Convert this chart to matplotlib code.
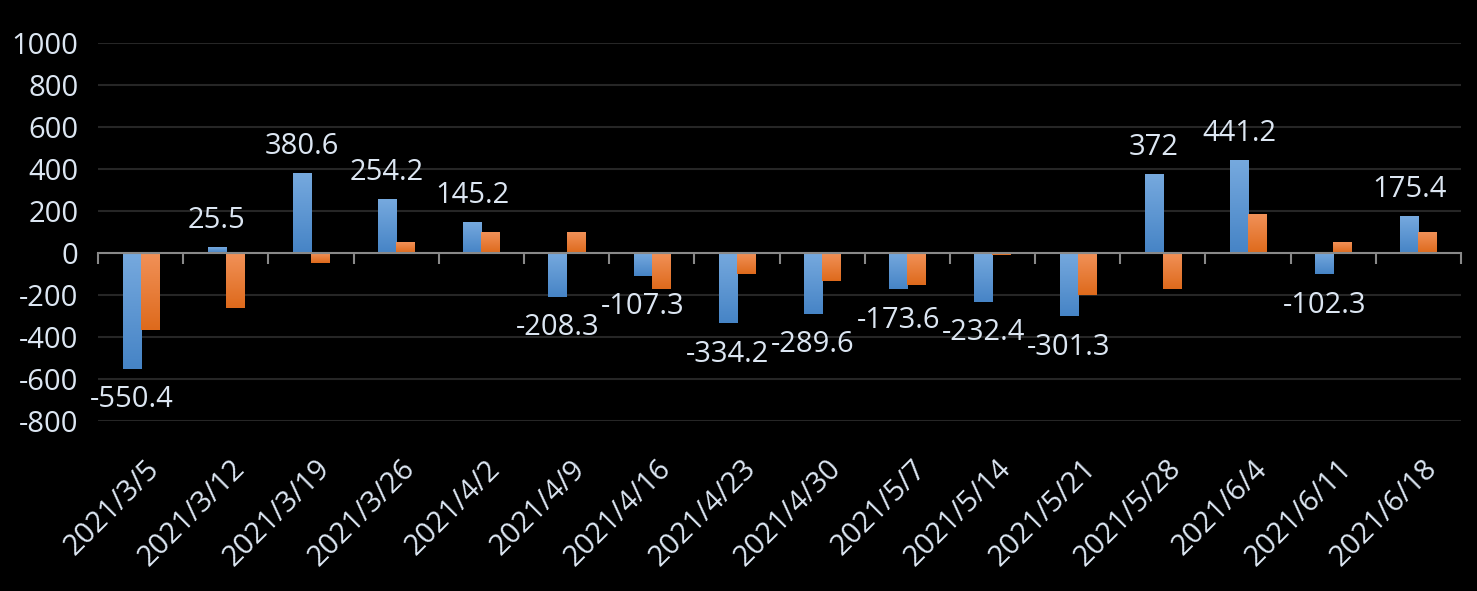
import matplotlib
matplotlib.use('Agg')
import matplotlib.pyplot as plt
import numpy as np
from matplotlib.colors import LinearSegmentedColormap

dates = ['2021/3/5', '2021/3/12', '2021/3/19', '2021/3/26', '2021/4/2', '2021/4/9',
         '2021/4/16', '2021/4/23', '2021/4/30', '2021/5/7', '2021/5/14', '2021/5/21',
         '2021/5/28', '2021/6/4', '2021/6/11', '2021/6/18']
blue_vals = [-550.4, 25.5, 380.6, 254.2, 145.2, -208.3, -107.3, -334.2, -289.6,
             -173.6, -232.4, -301.3, 372, 441.2, -102.3, 175.4]
orange_vals = [-366, -260, -46, 48, 100, 100, -170, -98, -133, -152, -10, -198,
               -170, 181, 48, 100]
y_ticks = [-800, -600, -400, -200, 0, 200, 400, 600, 800, 1000]

plt.rcParams['font.family'] = ['Open Sans', 'DejaVu Sans']
txt_color = '#dce6f2'

fig = plt.figure(figsize=(14.77, 5.91), dpi=100, facecolor='black')
ax = fig.add_axes([98 / 1477, 1 - 421 / 591, (1461 - 98) / 1477, (421 - 43) / 591])
ax.set_facecolor('black')

x = np.arange(len(dates))
w = 0.212
blue_bars = ax.bar(x - w / 2, blue_vals, w, color='none', zorder=3)
orange_bars = ax.bar(x + w / 2, orange_vals, w, color='none', zorder=3)

blue_cm = LinearSegmentedColormap.from_list('b', ['#4684c6', '#76a9de'])
orange_cm = LinearSegmentedColormap.from_list('o', ['#de6a1c', '#f19158'])
grad = np.linspace(0, 1, 100).reshape(-1, 1)


def fill_gradient(bars, cmap):
    # vertical gradient per bar: light at top, darker at bottom
    for b in bars:
        x0, y0 = b.get_x(), b.get_y()
        x1, y1 = x0 + b.get_width(), y0 + b.get_height()
        lo, hi = min(y0, y1), max(y0, y1)
        ax.imshow(grad, extent=[x0, x1, lo, hi], origin='lower', aspect='auto',
                  cmap=cmap, zorder=3, interpolation='bilinear')


fill_gradient(blue_bars, blue_cm)
fill_gradient(orange_bars, orange_cm)

for xi, v in zip(x, blue_vals):
    lbl = f'{v:g}'
    if v >= 0:
        ax.annotate(lbl, (xi - w / 2, v), xytext=(0, 9), textcoords='offset points',
                    ha='center', va='bottom', color=txt_color, fontsize=21, zorder=5)
    else:
        ax.annotate(lbl, (xi - w / 2, v), xytext=(0, -12), textcoords='offset points',
                    ha='center', va='top', color=txt_color, fontsize=21, zorder=5)

ax.set_xlim(-0.5, len(dates) - 0.5)
ax.set_ylim(-800, 1000)
ax.set_yticks(y_ticks)
ax.set_yticklabels([str(t) for t in y_ticks])
ax.tick_params(axis='y', length=0, pad=14, labelsize=21, labelcolor=txt_color)
ax.grid(axis='y', color='#262626', linewidth=1.5, zorder=0)
ax.set_axisbelow(True)

for s in ['top', 'right', 'left']:
    ax.spines[s].set_visible(False)
ax.spines['bottom'].set_position(('data', 0))
ax.spines['bottom'].set_color('#898989')
ax.spines['bottom'].set_linewidth(1.5)
ax.spines['bottom'].set_zorder(4)
ax.set_xticks(np.arange(-0.5, len(dates), 1.0))
ax.tick_params(axis='x', length=8, width=1.5, color='#898989', labelbottom=False)

sec = ax.secondary_xaxis(0.0)
sec.set_xticks(x + 0.05)
sec.set_xticklabels(dates, rotation=45, ha='right', rotation_mode='anchor')
sec.tick_params(axis='x', length=0, pad=24, labelsize=21, labelcolor=txt_color)
sec.spines['bottom'].set_visible(False)

fig.savefig('out.png', dpi=100, facecolor='black')
